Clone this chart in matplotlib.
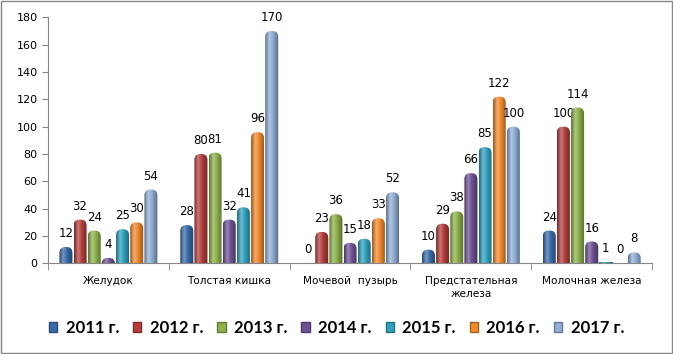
import numpy as np
import matplotlib.pyplot as plt
import matplotlib.colors as mcolors
from matplotlib.patches import Rectangle, FancyBboxPatch

categories = ["Желудок", "Толстая кишка", "Мочевой  пузырь", "Предстательная\nжелеза", "Молочная железа"]
years = ["2011 г.", "2012 г.", "2013 г.", "2014 г.", "2015 г.", "2016 г.", "2017 г."]
v2011 = [12, 28, 0, 10, 24]
v2012 = [32, 80, 23, 29, 100]
v2013 = [24, 81, 36, 38, 114]
v2014 = [4, 32, 15, 66, 16]
v2015 = [25, 41, 18, 85, 1]
v2016 = [30, 96, 33, 122, 0]
v2017 = [54, 170, 52, 100, 8]
series = [v2011, v2012, v2013, v2014, v2015, v2016, v2017]
colors = ["#3A6CA8", "#B43F3C", "#8DB04B", "#6F5194", "#2FA2BE", "#F08A2E", "#90AED6"]


def shade(c, f):
    r = np.array(mcolors.to_rgb(c))
    if f >= 0:
        return tuple(r + (1 - r) * f)
    return tuple(r * (1 + f))


def cyl_cmap(c):
    stops = [(0.0, shade(c, -0.35)), (0.3, shade(c, 0.3)), (0.55, shade(c, 0.0)),
             (1.0, shade(c, -0.4))]
    return mcolors.LinearSegmentedColormap.from_list("cyl", stops)


W, H = 673, 354
fig = plt.figure(figsize=(W / 100, H / 100), dpi=100)
ax_box = [0.0713, 0.256, 0.8977, 0.695]
ax = fig.add_axes(ax_box)
ymax = 180

x = np.arange(len(categories))
group = 0.82
w = group / len(series)
grad = np.linspace(0, 1, 64).reshape(1, -1)

# pixel scale, used to keep the rounded tops circular
xppu = ax_box[2] * W / len(categories)
yppu = ax_box[3] * H / ymax
asp = xppu / yppu

for k, vals in enumerate(series):
    pos = x - group / 2 + w * (k + 0.5)
    bars = ax.bar(pos, vals, width=w, color=colors[k], label=years[k], zorder=2)
    cm = cyl_cmap(colors[k])
    for rect, v in zip(bars, vals):
        rect.set_visible(False)
        bx = rect.get_x() + w * 0.04
        bw = w * 0.92
        if v > 0:
            r = bw * 0.45
            shape = FancyBboxPatch((bx, -r * asp * 2), bw, v + r * asp * 2,
                                   boxstyle=f"round,pad=0,rounding_size={r}",
                                   mutation_aspect=asp, transform=ax.transData)
            if v * yppu < 5:
                shape = Rectangle((bx, 0), bw, v, transform=ax.transData)
            im = ax.imshow(grad, cmap=cm, aspect="auto", zorder=3,
                           extent=(bx, bx + bw, 0, v))
            im.set_clip_path(shape)
        ax.annotate(str(v), (rect.get_x() + rect.get_width() / 2, v),
                    xytext=(0, 5), textcoords="offset points",
                    ha="center", va="bottom", fontsize=8.5, color="#000000")

ax.set_xlim(-0.5, len(categories) - 0.5)
ax.set_ylim(0, ymax)
ax.set_yticks(np.arange(0, ymax + 1, 20))
ax.set_xticks(x)
ax.set_xticklabels(categories, fontsize=7.6, va="top", linespacing=1.45)
ax.set_xticks(np.arange(-0.5, len(categories), 1), minor=True)
ax.tick_params(axis="x", which="major", length=0, pad=9)
ax.tick_params(axis="x", which="minor", length=5, color="#868686")
ax.tick_params(axis="y", length=4, color="#868686", labelsize=8)
for s in ["top", "right"]:
    ax.spines[s].set_visible(False)
for s in ["left", "bottom"]:
    ax.spines[s].set_color("#868686")

handles = [Rectangle((0, 0), 1, 1, facecolor=c, edgecolor=shade(c, -0.3)) for c in colors]
fig.legend(handles, years, loc="center", bbox_to_anchor=(0.5, 0.073), ncol=7,
           frameon=False, prop={"family": "Lato", "weight": "bold", "size": 12},
           handlelength=0.5, handleheight=0.5, handletextpad=0.5, columnspacing=0.84)

fig.patches.append(Rectangle((0.001, 0.002), 0.997, 0.995, transform=fig.transFigure,
                             fill=False, edgecolor="#868686", linewidth=1))

fig.savefig("out.png", dpi=100)
